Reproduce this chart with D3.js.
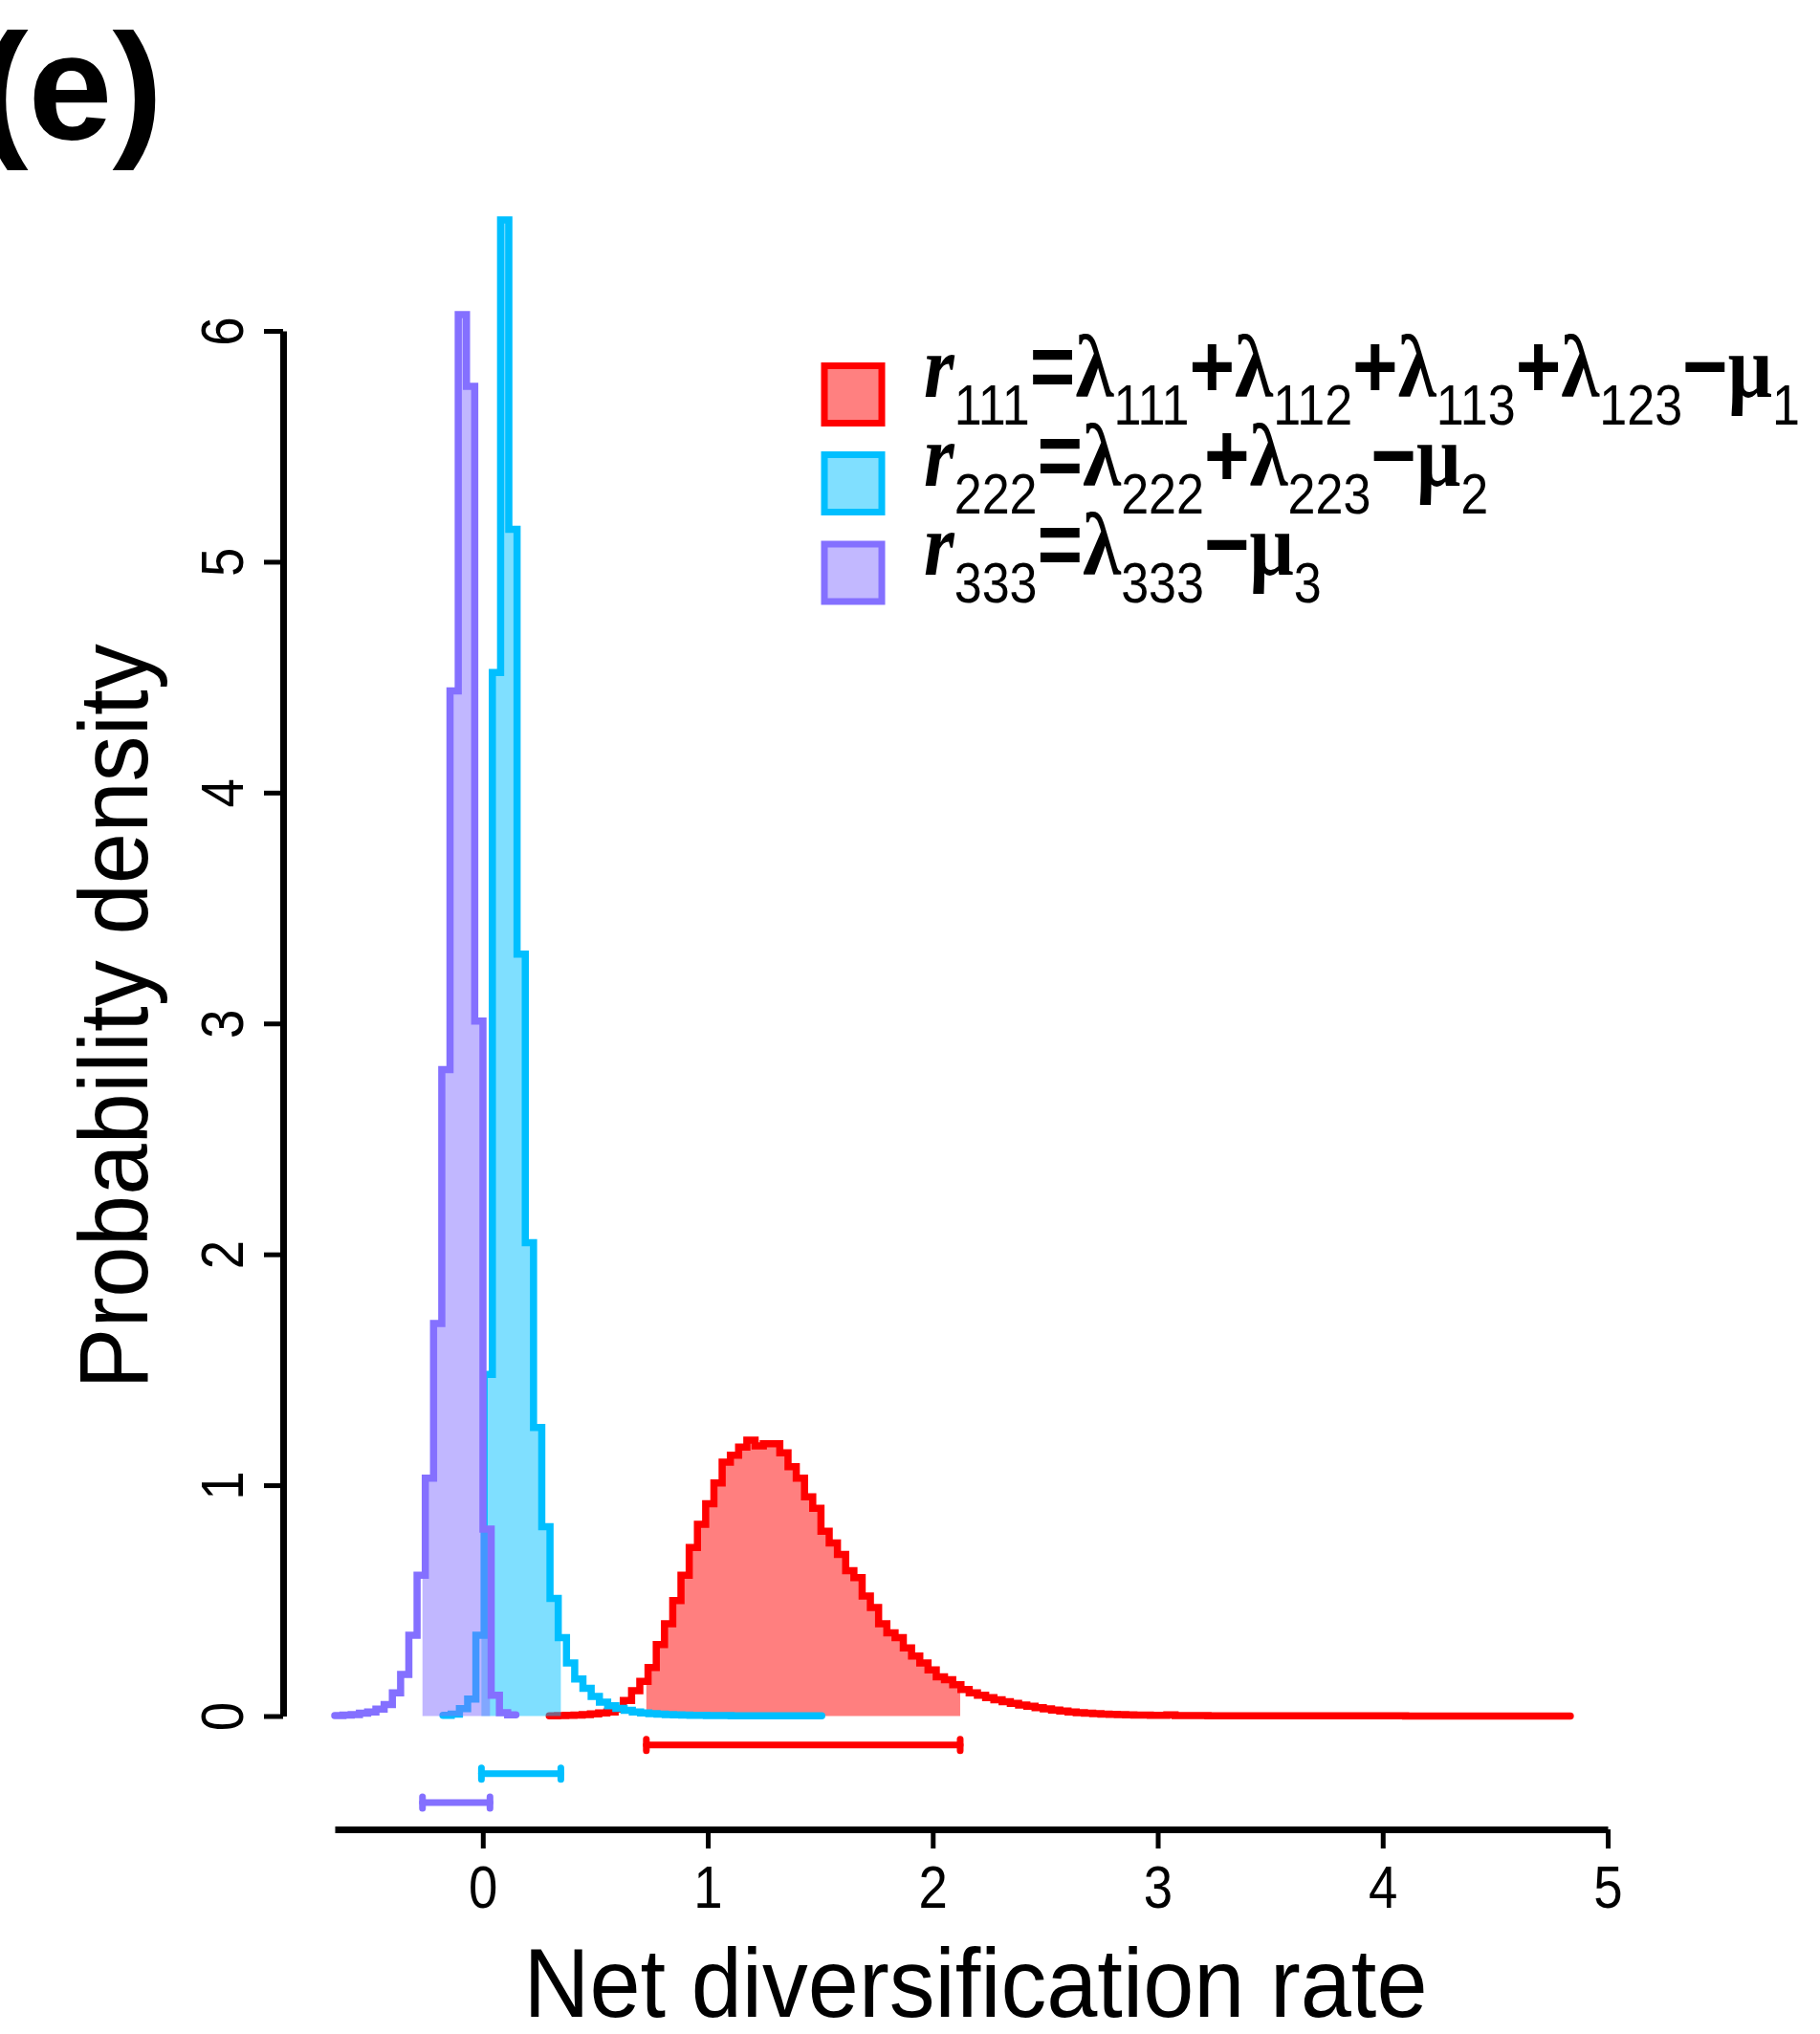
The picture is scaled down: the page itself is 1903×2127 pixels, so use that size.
<!DOCTYPE html>
<html>
<head>
<meta charset="utf-8">
<script src="https://cdn.jsdelivr.net/npm/d3@7"></script>
<style>
  body { margin: 0; background: #fff; }
  svg { display: block; }
</style>
</head>
<body>
<div id="container"></div>
<script>
// posterior histograms (density per bin)
const binWidth = 0.0366
const binStarts = [0.2954, -0.177, -0.658]   // r111, r222, r333

const redDensity = [
  0.001, 0.002, 0.003, 0.004, 0.006, 0.009, 0.013, 0.018, 0.03,
  0.067, 0.11, 0.15, 0.21, 0.31, 0.40, 0.50, 0.61, 0.73, 0.83,
  0.92, 1.01, 1.10, 1.13, 1.165, 1.195, 1.17, 1.18, 1.18, 1.14,
  1.08, 1.03, 0.95, 0.90, 0.80, 0.75, 0.70, 0.63, 0.60, 0.52,
  0.47, 0.40, 0.36, 0.34, 0.295, 0.26, 0.23, 0.20, 0.17, 0.157,
  0.136, 0.115, 0.10, 0.09, 0.08, 0.07, 0.062, 0.055, 0.048, 0.042,
  0.036, 0.031, 0.026, 0.022, 0.018, 0.015, 0.012, 0.010, 0.008, 0.007,
  0.006, 0.005, 0.004, 0.004, 0.003, 0.003, 0.005, 0.002, 0.002, 0.002,
  0.002, 0.001, 0.001, 0.001, 0.001, 0.001, 0.001, 0.001, 0.001, 0.001,
  0.001, 0.001, 0.001, 0.001, 0.001, 0.001, 0.001, 0.001, 0.001, 0.001,
  0.001, 0.001, 0.001, 0.001, 0.001, 0, 0, 0, 0, 0,
  0, 0, 0, 0, 0, 0, 0, 0, 0, 0,
  0, 0, 0, 0, 0
]
const cyanDensity = [
  0.003, 0.008, 0.032, 0.074, 0.35, 1.48, 4.52, 6.48, 5.14, 3.30,
  2.05, 1.25, 0.82, 0.51, 0.34, 0.23, 0.16, 0.12, 0.085, 0.06,
  0.045, 0.033, 0.025, 0.018, 0.013, 0.010, 0.008, 0.006, 0.005, 0.004,
  0.003, 0.003, 0.002, 0.002, 0.002, 0.001, 0.001, 0.001, 0.001, 0.001,
  0.001, 0.001, 0.001, 0.001, 0.001, 0.001
]
const purpleDensity = [
  0.002, 0.004, 0.006, 0.012, 0.018, 0.03, 0.05, 0.10, 0.18, 0.35,
  0.61, 1.03, 1.70, 2.80, 4.44, 6.07, 5.76, 3.01, 0.81, 0.09,
  0.015, 0.005
]
// 95% HPD intervals
const hpdLow = [0.727, -0.006, -0.268]
const hpdHigh = [2.122, 0.347, 0.032]

const xTicks = [0, 1, 2, 3, 4, 5]
const yTicks = [0, 1, 2, 3, 4, 5, 6]

// legend: [operator, symbol, subscript]
const legendR111 = [['', 'r', '111'], ['=', 'λ', '111'], ['+', 'λ', '112'], ['+', 'λ', '113'], ['+', 'λ', '123'], ['−', 'μ', '1']]
const legendR222 = [['', 'r', '222'], ['=', 'λ', '222'], ['+', 'λ', '223'], ['−', 'μ', '2']]
const legendR333 = [['', 'r', '333'], ['=', 'λ', '333'], ['−', 'μ', '3']]

const lineColors = ['#ff0000', '#00bfff', '#8470ff']
const fillColors = ['#ff8080', '#80dfff', '#c2b8ff']
const sans = '"Liberation Sans", Arial, sans-serif'
const serif = '"Liberation Serif", "Times New Roman", serif'

const densities = [redDensity, cyanDensity, purpleDensity]

const svg = d3.select('#container').append('svg')
  .attr('width', 1903)
  .attr('height', 2127)
  .style('background', '#fff')

const x = d3.scaleLinear()
  .domain([binStarts[2], 5])
  .range([350, 1681])

const y = d3.scaleLinear()
  .domain([0, 6])
  .range([1794.5, 346])

// fills first (HPD part of each histogram), then outlines
const area = d3.area()
  .curve(d3.curveStepAfter)
  .x(d => x(d[0]))
  .y0(y(0))
  .y1(d => y(d[1]))

const line = d3.line()
  .curve(d3.curveStepAfter)
  .x(d => x(d[0]))
  .y(d => y(d[1]))

densities.forEach((dens, i) => {
  const start = binStarts[i]
  const pts = dens.map((d, k) => [start + k * binWidth, d])
  pts.push([start + dens.length * binWidth, dens[dens.length - 1]])

  const hpd = []
  dens.forEach((d, k) => {
    const a = start + k * binWidth
    const b = a + binWidth
    if (b <= hpdLow[i] || a >= hpdHigh[i]) return
    hpd.push([Math.max(a, hpdLow[i]), d])
  })
  hpd.push([hpdHigh[i], hpd[hpd.length - 1][1]])

  svg.append('path')
    .attr('d', area(hpd))
    .attr('fill', lineColors[i])
    .attr('fill-opacity', 0.5)

  svg.append('path')
    .attr('d', line(pts))
    .attr('fill', 'none')
    .attr('stroke', lineColors[i])
    .attr('stroke-width', 7.5)
    .attr('stroke-linejoin', 'miter')
    .attr('stroke-linecap', 'round')
})

// interval bars under the zero line
hpdLow.forEach((lo, i) => {
  const yy = y(-0.125 * (i + 1))
  const g = svg.append('g')
    .attr('stroke', lineColors[i])
    .attr('stroke-linecap', 'round')
  g.append('line')
    .attr('x1', x(lo)).attr('x2', x(hpdHigh[i]))
    .attr('y1', yy).attr('y2', yy)
    .attr('stroke-width', 7)
  g.selectAll('.cap')
    .data([lo, hpdHigh[i]])
    .enter()
    .append('line')
    .attr('x1', d => x(d)).attr('x2', d => x(d))
    .attr('y1', yy - 6).attr('y2', yy + 6)
    .attr('stroke-width', 7)
})

// axes
const xAxis = svg.append('g')
  .attr('transform', 'translate(0,1913)')
  .call(d3.axisBottom(x).tickValues(xTicks).tickSize(20).tickSizeOuter(0).tickFormat(d3.format('d')))
xAxis.select('.domain').attr('stroke-width', 7)
xAxis.selectAll('.tick line').attr('stroke-width', 5)
xAxis.selectAll('.tick text')
  .attr('y', 0)
  .attr('dy', 0)
  .attr('transform', 'translate(0,82) scale(0.88,1.03)')
  .attr('font-size', 62)
  .attr('font-family', sans)
  .attr('fill', '#000')

const yAxis = svg.append('g')
  .attr('transform', 'translate(296,0)')
  .call(d3.axisLeft(y).tickValues(yTicks).tickSize(20).tickSizeOuter(0).tickFormat(d3.format('d')))
yAxis.select('.domain').attr('stroke-width', 7)
yAxis.selectAll('.tick line').attr('stroke-width', 5)
yAxis.selectAll('.tick text')
  .attr('x', 0)
  .attr('dy', 0)
  .attr('text-anchor', 'middle')
  .attr('transform', 'translate(-42,0) rotate(-90) scale(0.88,1.03)')
  .attr('font-size', 62)
  .attr('font-family', sans)
  .attr('fill', '#000')

// titles
svg.append('text')
  .attr('transform', 'translate(1020,2109) scale(0.975,1.04)')
  .attr('text-anchor', 'middle')
  .attr('font-family', sans)
  .attr('font-size', 98)
  .text('Net diversification rate')

svg.append('text')
  .attr('transform', 'translate(154,1063) rotate(-90) scale(0.98,1.04)')
  .attr('text-anchor', 'middle')
  .attr('font-family', sans)
  .attr('font-size', 98)
  .text('Probability density')

svg.append('text')
  .attr('x', 170)
  .attr('y', 145)
  .attr('text-anchor', 'end')
  .attr('font-family', sans)
  .attr('font-weight', 'bold')
  .attr('font-size', 158)
  .text('(e)')

// legend
const legendRows = [legendR111, legendR222, legendR333]
const rowCentres = [412.5, 505.5, 599]
const mainSize = 94
const subSize = 60
const subDrop = 29
const rowGroups = []

legendRows.forEach((terms, i) => {
  svg.append('rect')
    .attr('x', 862)
    .attr('y', rowCentres[i] - 30)
    .attr('width', 60)
    .attr('height', 60)
    .attr('fill', fillColors[i])
    .attr('stroke', lineColors[i])
    .attr('stroke-width', 7)

  const g = svg.append('g')
  const t = g.append('text').attr('x', 0).attr('y', 0)
  terms.forEach((term, j) => {
    if (term[0]) {
      t.append('tspan')
        .attr('dy', j > 0 ? -subDrop : 0)
        .attr('font-family', sans)
        .attr('font-weight', 'bold')
        .attr('font-size', mainSize)
        .text(term[0])
    }
    t.append('tspan')
      .attr('font-family', serif)
      .attr('font-weight', 'bold')
      .attr('font-style', j === 0 ? 'italic' : 'normal')
      .attr('font-size', mainSize)
      .text(term[1])
    t.append('tspan')
      .attr('dy', subDrop)
      .attr('font-family', sans)
      .attr('font-size', subSize)
      .text(term[2])
  })
  rowGroups.push({ g: g, t: t, base: rowCentres[i] + 2 })
})

// squeeze the legend lines to the width they take in the figure
const natural = rowGroups[0].t.node().getComputedTextLength()
const kx = (1882 - 966) / natural
rowGroups.forEach(r => {
  r.g.attr('transform', 'translate(966,' + r.base + ') scale(' + kx + ',1)')
})
</script>
</body>
</html>
